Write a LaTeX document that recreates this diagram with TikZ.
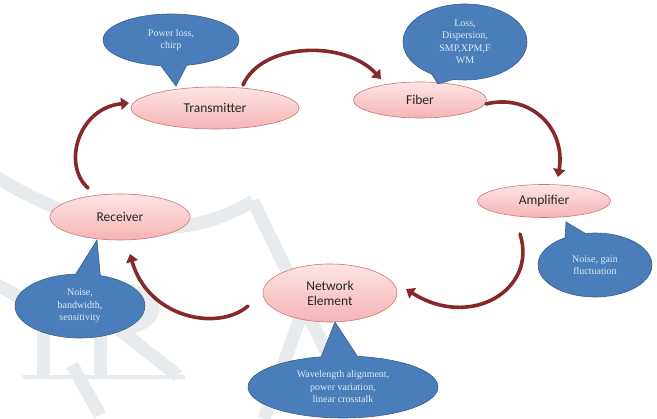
\documentclass[tikz,border=0pt]{standalone}
\usepackage{fontspec}
\setmainfont{Liberation Serif}
\newfontfamily\nodefont{Carlito}
\usetikzlibrary{shapes.geometric,shapes.callouts,arrows.meta}
\definecolor{pinkA}{RGB}{253,228,228}
\definecolor{pinkB}{RGB}{245,180,180}
\definecolor{pinkEdge}{RGB}{200,120,120}
\definecolor{blueFill}{RGB}{74,126,187}
\definecolor{blueEdge}{RGB}{56,93,138}
\definecolor{arrowRed}{RGB}{135,40,42}
\definecolor{wmark}{RGB}{231,235,237}
\definecolor{calloutText}{RGB}{225,233,244}
\tikzset{
  stage/.style={ellipse, inner sep=0pt, draw=pinkEdge, line width=0.6pt,
    top color=pinkA, bottom color=pinkB, font=\nodefont\fontsize{13.5}{15}\selectfont,
    text=black!85, align=center},
  note/.style={ellipse callout, inner sep=0pt, draw=blueEdge, line width=0.6pt,
    fill=blueFill, callout pointer arc=22, text=calloutText, align=center,
    font=\fontsize{10}{12.5}\selectfont},
  flow/.style={draw=arrowRed, line width=3.6pt, line cap=round,
    -{Triangle[width=12pt,length=8pt]}},
  wm/.style={draw=wmark, line width=13pt}
}
\begin{document}
\begin{tikzpicture}[x=1pt,y=-1pt]
\useasboundingbox (0,0) rectangle (657,419);
% faint watermark
\draw[wm] (-5,176) .. controls (70,224) and (170,252) .. (253,201);
\draw[wm, line join=miter] (253,201) -- (335,370);
\draw[wm] (300,318) -- (264,419);
\draw[wm] (-5,284) -- (25,300);
\draw[wm] (43,332) -- (43,376);
\draw[wm] (100,300) -- (100,376);
\draw[wm] (100,292) .. controls (160,280) and (175,325) .. (115,330);
\draw[wm] (120,330) -- (178,376);
\draw[draw=wmark, line width=4pt] (22,377) -- (185,377);
\draw[wm] (72,365) -- (100,415);

% stages
\node[stage, minimum width=168pt, minimum height=42pt] (tx) at (215,108) {Transmitter};
\node[stage, minimum width=133pt, minimum height=36pt] (fb) at (420,100) {Fiber};
\node[stage, minimum width=133pt, minimum height=33pt] (am) at (544,201) {Amplifier};
\node[stage, minimum width=140pt, minimum height=46pt] (rx) at (120,217) {Receiver};
\node[stage, minimum width=134pt, minimum height=58pt] (ne) at (330,293) {Network\\Element};

% pointer tips
\coordinate (ptx) at (176,86);
\coordinate (pfb) at (438,84);
\coordinate (pam) at (566,222);
\coordinate (prx) at (97,240);
\coordinate (pne) at (335,322);

% callouts
\node[note, minimum width=136pt, minimum height=52pt, callout absolute pointer={(ptx)}] (ctx) at (171,40) {Power loss,\\chirp};
\node[note, minimum width=124pt, minimum height=76pt, callout absolute pointer={(pfb)}] (cfb) at (465,42) {Loss,\\Dispersion,\\SMP,XPM,F\\WM};
\node[note, minimum width=114pt, minimum height=64pt, callout absolute pointer={(pam)}] (cam) at (595,265) {Noise, gain\\fluctuation};
\node[note, minimum width=130pt, minimum height=64pt, callout absolute pointer={(prx)}] (crx) at (80,306) {Noise,\\bandwidth,\\sensitivity};
\node[note, minimum width=190pt, minimum height=62pt, callout absolute pointer={(pne)}] (cne) at (343,387) {Wavelength alignment,\\power variation,\\linear crosstalk};

% arrow ends
\coordinate (a1s) at (243,85);
\coordinate (a1e) at (381,79);
\coordinate (a2s) at (486,104);
\coordinate (a2e) at (558,177);
\coordinate (a3s) at (520,234);
\coordinate (a3e) at (406,289);
\coordinate (a4s) at (248,306);
\coordinate (a4e) at (130,254);
\coordinate (a5s) at (88,188);
\coordinate (a5e) at (129,103);

\draw[flow] (a1s) .. controls (262,42) and (345,40) .. (a1e);
\draw[flow] (a2s) .. controls (530,93) and (566,128) .. (a2e);
\draw[flow] (a3s) .. controls (538,290) and (470,330) .. (a3e);
\draw[flow] (a4s) .. controls (218,332) and (148,318) .. (a4e);
\draw[flow] (a5s) .. controls (62,165) and (78,108) .. (a5e);
\end{tikzpicture}
\end{document}
